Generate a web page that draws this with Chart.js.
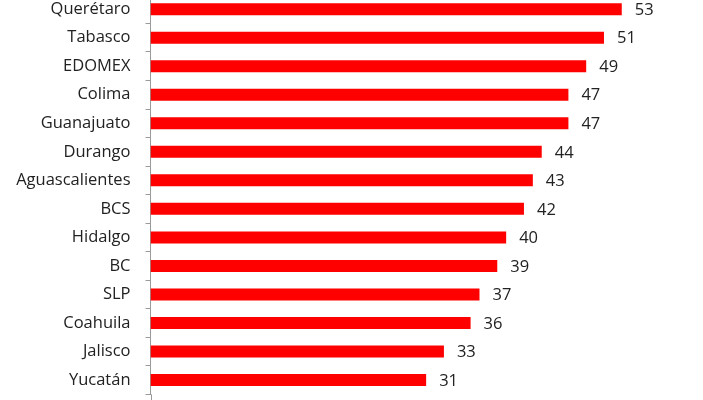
<!DOCTYPE html>
<html>
<head>
<meta charset="utf-8">
<script src="https://cdn.jsdelivr.net/npm/chart.js@4.4.1/dist/chart.umd.min.js"></script>
<style>
  html, body { margin: 0; padding: 0; background: #fff; }
  #wrap { position: relative; width: 703px; height: 400px; overflow: hidden; }
  #bar-chart-states { position: absolute; left: 0; top: -30px; }
</style>
</head>
<body>
<div id="wrap">
  <canvas id="bar-chart-states" width="703" height="450"></canvas>
</div>
<script>
/* States and their values, top to bottom as in the picture */
const stateLabels = [
  'Querétaro', 'Tabasco', 'EDOMEX', 'Colima', 'Guanajuato', 'Durango',
  'Aguascalientes', 'BCS', 'Hidalgo', 'BC', 'SLP', 'Coahuila', 'Jalisco', 'Yucatán'
];
const stateValues = [53, 51, 49, 47, 47, 44, 43, 42, 40, 39, 37, 36, 33, 31];

const labelFont = { family: '"Open Sans", Lato, sans-serif', size: 16.5 };

/* Draw the number to the right of each bar */
const valueLabels = {
  id: 'valueLabels',
  afterDatasetsDraw(chart) {
    const ctx = chart.ctx;
    const meta = chart.getDatasetMeta(0);
    ctx.save();
    ctx.font = `${labelFont.size}px ${labelFont.family}`;
    ctx.fillStyle = '#222';
    ctx.textAlign = 'left';
    ctx.textBaseline = 'middle';
    meta.data.forEach((bar, i) => {
      ctx.fillText(String(stateValues[i]), bar.x + 13, bar.y + 1);
    });
    ctx.restore();
  },
};

/* The axis line runs on past the last category, down to the picture's edge */
const axisTail = {
  id: 'axisTail',
  afterDraw(chart) {
    const { ctx, chartArea } = chart;
    const x = Math.round(chartArea.left) + 0.5;
    ctx.save();
    ctx.strokeStyle = '#9a9a9a';
    ctx.lineWidth = 1;
    ctx.beginPath();
    ctx.moveTo(x, chartArea.bottom);
    ctx.lineTo(x, chart.height);
    ctx.stroke();
    ctx.restore();
  },
};

const statesCanvas = document.getElementById('bar-chart-states').getContext('2d');

const configStates = {
  type: 'bar',
  data: {
    labels: stateLabels,
    datasets: [
      {
        data: stateValues,
        backgroundColor: '#ff0000',
        borderWidth: 0,
        categoryPercentage: 1,
        barPercentage: 0.42,
      },
    ],
  },
  options: {
    indexAxis: 'y',
    responsive: false,
    animation: false,
    layout: {
      padding: { top: 0, right: 19, bottom: 25.7, left: 0 },
    },
    plugins: {
      legend: { display: false },
      tooltip: { enabled: false },
    },
    scales: {
      x: {
        display: false,
        min: 0,
        max: 60,
      },
      y: {
        afterFit(scale) {
          scale.width = 150.5;
        },
        border: { display: true, color: '#9a9a9a', width: 1 },
        grid: {
          drawOnChartArea: false,
          drawTicks: true,
          tickLength: 5,
          color: '#9a9a9a',
          offset: true,
        },
        ticks: {
          color: '#222',
          padding: 15,
          font: labelFont,
        },
      },
    },
  },
  plugins: [valueLabels, axisTail],
};

new Chart(statesCanvas, configStates);
</script>
</body>
</html>
